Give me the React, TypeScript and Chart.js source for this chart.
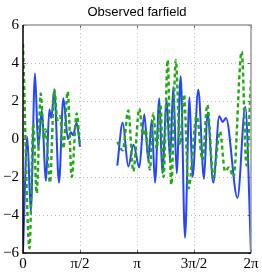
import React, { useEffect, useRef } from "react";
import { Chart, registerables } from "chart.js";

Chart.register(...registerables);

const TITLE = "Observed farfield";
const PI = Math.PI;
const xTickValues = [0, PI / 2, PI, (3 * PI) / 2, 2 * PI];
const xTickLabels = ["0", "π/2", "π", "3π/2", "2π"];
const yTickValues = [-6, -4, -2, 0, 2, 4, 6];

const blueAngle1 = [0, 0.1185, 0.215, 0.3307, 0.4216, 0.5153, 0.6338, 0.7248, 0.7799, 0.8626, 0.9921, 1.1106, 1.2401, 1.3228, 1.3779, 1.4799, 1.5708];
const blueValue1 = [-5.9, 0.1, -3.8, 3.45, -0.5, 1.5, -2.2, 1.55, 1.1, 2.55, -2.3, 2.15, 0.0, 0.35, 0.2, 0.85, -0.4];

const blueAngle2 = [2.5987, 2.7475, 2.9018, 3.0451, 3.205, 3.3428, 3.453, 3.5467, 3.6376, 3.7561, 3.8388, 3.9601, 4.051, 4.1419, 4.2356, 4.3459, 4.4644, 4.5884, 4.671, 4.8309, 4.988, 5.0844, 5.2443, 5.4096, 5.5033, 5.5942, 5.9111, 6.1261, 6.2832];
const blueValue2 = [-1.4, 0.85, -1.45, -0.3, -1.5, 1.3, -1.1, 1.0, -2.3, 2.15, -1.8, 2.05, -1.1, 2.75, -1.8, 3.3, -5.2, 2.2, -2.0, 2.6, -2.1, 1.4, -2.3, 1.2, 0.9, 1.1, -3.1, 1.7, -6.0];

const greenAngle1 = [0, 0.1791, 0.2838, 0.3775, 0.4878, 0.5787, 0.62, 0.7441, 0.8626, 0.9507, 1.0196, 1.1106, 1.2318, 1.3421, 1.4799, 1.5708];
const greenValue1 = [5.0, -5.75, 0.8, -2.85, 2.4, 0.0, 0.5, -2.3, 2.6, 1.0, 1.2, -0.5, 2.5, -2.0, 1.35, -0.4];

const greenAngle2 = [2.5987, 2.7475, 2.9018, 3.0396, 3.205, 3.3069, 3.3758, 3.4998, 3.5908, 3.6845, 3.7892, 3.8719, 3.9876, 4.0868, 4.2108, 4.3266, 4.4368, 4.5608, 4.7868, 4.9466, 5.0789, 5.2443, 5.4289, 5.5667, 5.6769, 5.8009, 6.0269, 6.1592, 6.2832];
const greenValue2 = [-0.15, -0.6, 1.5, -1.7, 1.6, 0.2, 0.5, -1.6, 1.35, -0.5, 1.8, -2.0, 4.15, -2.4, 4.15, -0.3, 2.35, -2.6, 1.2, -1.1, 1.8, -2.0, 0.4, -1.7, -1.5, -2.0, 4.6, -1.4, 3.1];

const BLUE = "#2444ff";
const GREEN = "#22aa11";

const toPoints = (xs: number[], ys: number[]) => xs.map((x, i) => ({ x, y: ys[i] }));

const frameGridPlugin = {
  id: "frameGrid",
  beforeDatasetsDraw(chart: any) {
    const { ctx, chartArea, scales } = chart;
    const { left, right, top, bottom } = chartArea;
    ctx.save();
    ctx.strokeStyle = "#bcbcbc";
    ctx.lineWidth = 1;
    ctx.setLineDash([1, 3]);
    xTickValues.slice(1, -1).forEach((v) => {
      const x = Math.round(scales.x.getPixelForValue(v)) + 0.5;
      ctx.beginPath();
      ctx.moveTo(x, top);
      ctx.lineTo(x, bottom);
      ctx.stroke();
    });
    yTickValues.slice(1, -1).forEach((v) => {
      const y = Math.round(scales.y.getPixelForValue(v)) + 0.5;
      ctx.beginPath();
      ctx.moveTo(left, y);
      ctx.lineTo(right, y);
      ctx.stroke();
    });
    ctx.setLineDash([]);
    ctx.strokeStyle = "#666";
    xTickValues.forEach((v) => {
      const x = Math.round(scales.x.getPixelForValue(v)) + 0.5;
      ctx.beginPath();
      ctx.moveTo(x, bottom);
      ctx.lineTo(x, bottom - 3);
      ctx.moveTo(x, top);
      ctx.lineTo(x, top + 3);
      ctx.stroke();
    });
    yTickValues.forEach((v) => {
      const y = Math.round(scales.y.getPixelForValue(v)) + 0.5;
      ctx.beginPath();
      ctx.moveTo(left, y);
      ctx.lineTo(left + 3, y);
      ctx.moveTo(right, y);
      ctx.lineTo(right - 3, y);
      ctx.stroke();
    });
    ctx.restore();
  },
  afterDatasetsDraw(chart: any) {
    const { ctx, chartArea } = chart;
    const { left, right, top, bottom } = chartArea;
    ctx.save();
    ctx.strokeStyle = "#999";
    ctx.lineWidth = 1.5;
    ctx.beginPath();
    ctx.moveTo(left, top);
    ctx.lineTo(right, top);
    ctx.lineTo(right, bottom);
    ctx.stroke();
    ctx.strokeStyle = "#000";
    ctx.lineWidth = 1.5;
    ctx.beginPath();
    ctx.moveTo(left, top);
    ctx.lineTo(left, bottom);
    ctx.lineTo(right, bottom);
    ctx.stroke();
    ctx.restore();
  },
};

export default function App() {
  const ref = useRef<HTMLCanvasElement | null>(null);
  useEffect(() => {
    document.body.style.margin = "0";
    const canvas = ref.current!;
    const common = {
      pointRadius: 0,
      fill: false,
      cubicInterpolationMode: "monotone" as const,
    };
    const chart = new Chart(canvas, {
      type: "line",
      data: {
        datasets: [
          { ...common, data: toPoints(greenAngle1, greenValue1), borderColor: GREEN, borderWidth: 2.4, borderDash: [4, 3] },
          { ...common, data: toPoints(greenAngle2, greenValue2), borderColor: GREEN, borderWidth: 2.4, borderDash: [4, 3] },
          { ...common, data: toPoints(blueAngle1, blueValue1), borderColor: BLUE, borderWidth: 2 },
          { ...common, data: toPoints(blueAngle2, blueValue2), borderColor: BLUE, borderWidth: 2 },
        ],
      },
      options: {
        animation: false,
        responsive: false,
        devicePixelRatio: 1,
        layout: { padding: { left: 0, right: 11, top: 0, bottom: 0 } },
        plugins: {
          legend: { display: false },
          tooltip: { enabled: false },
          title: {
            display: true,
            text: TITLE,
            fullSize: false,
            color: "#000",
            font: { family: "'Liberation Sans', Arial, sans-serif", size: 13, weight: "normal", lineHeight: "16px" },
            padding: { top: 4, bottom: 5 },
          },
        },
        scales: {
          x: {
            type: "linear",
            min: 0,
            max: 2 * PI,
            grid: { display: false, drawTicks: false },
            border: { display: false },
            afterBuildTicks: (scale: any) => {
              scale.ticks = xTickValues.map((v) => ({ value: v }));
            },
            afterFit: (scale: any) => {
              scale.height = 20;
            },
            ticks: {
              autoSkip: false,
              maxRotation: 0,
              padding: 2,
              color: "#000",
              font: { family: "'Liberation Serif', 'DejaVu Serif', serif", size: 15 },
              callback: (v: any) => {
                const i = xTickValues.findIndex((t) => Math.abs(t - Number(v)) < 1e-6);
                return i >= 0 ? xTickLabels[i] : "";
              },
            },
          },
          y: {
            type: "linear",
            min: -6,
            max: 6,
            grid: { display: false, drawTicks: false },
            border: { display: false },
            afterBuildTicks: (scale: any) => {
              scale.ticks = yTickValues.map((v) => ({ value: v }));
            },
            afterFit: (scale: any) => {
              scale.width = 23;
            },
            ticks: {
              autoSkip: false,
              padding: 4,
              color: "#000",
              font: { family: "'Liberation Serif', 'DejaVu Serif', serif", size: 15 },
              callback: (v: any) => {
                const n = Number(v);
                return n < 0 ? "−" + Math.abs(n) : String(n);
              },
            },
          },
        },
      },
      plugins: [frameGridPlugin],
    });
    return () => chart.destroy();
  }, []);
  return <canvas ref={ref} width={262} height={273} style={{ display: "block", width: 262, height: 273 }} />;
}
